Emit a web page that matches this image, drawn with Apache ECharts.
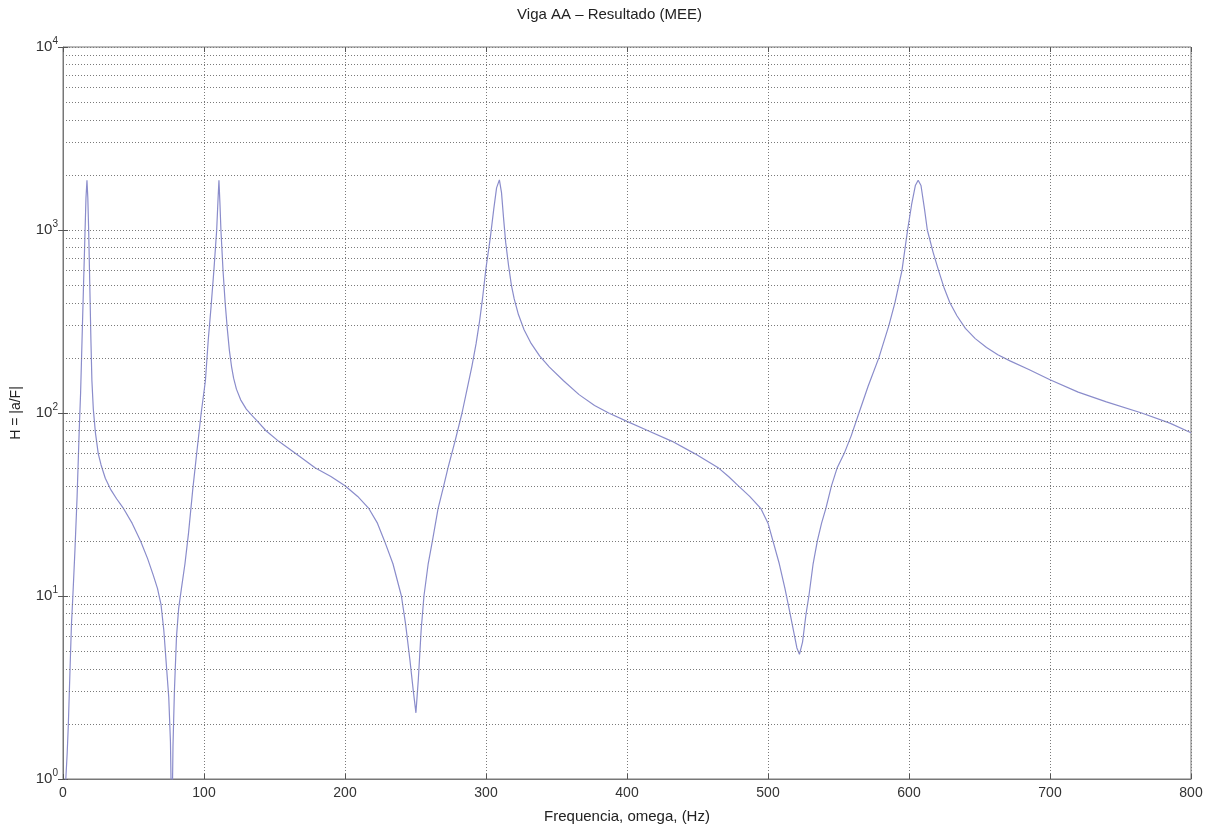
<!DOCTYPE html>
<html>
<head>
<meta charset="utf-8">
<title>Viga AA – Resultado (MEE)</title>
<script src="https://cdn.jsdelivr.net/npm/echarts@6/dist/echarts.min.js"></script>
<style>
    html, body { margin: 0; padding: 0; background: #fff; }
    #chart { width: 1219px; height: 829px; }
</style>
</head>
<body>
<div id="chart"></div>
<script>
// frequency (Hz) and |a/F|
const freqHz = [
    1.5, 2, 3, 3.8, 5, 6, 7, 8.5, 10, 11.5, 12.5, 13.5, 14.5, 15.5, 16.3, 17,
    17.6, 18.2, 19, 19.8, 20.5, 21.5, 23, 25, 27, 30, 34, 38, 43, 49, 55, 60,
    64, 67, 69.5, 71.5, 73.5, 75, 76.2, 77.2, 78, 79, 80.5, 82, 84, 86.5, 89,
    92, 95, 98, 101, 103, 105, 107, 109, 110, 110.6, 111.3, 112, 113.5, 115,
    116.5, 118, 119.5, 121, 123, 126, 130, 134, 138, 144, 153, 165, 179, 190,
    200, 209, 217, 223, 228, 234, 240, 243, 246, 248.5, 250.3, 252, 254, 256,
    259, 262, 266, 270, 273, 278, 283, 287, 290, 293, 295.5, 297.5, 300, 303,
    305.5, 307.5, 309.5, 311, 312.5, 314, 316, 318, 320, 323, 327, 332, 338,
    345, 355, 366, 377, 387, 400, 415, 432, 448, 465, 472, 479, 487, 495, 500,
    503.5, 508, 512, 515, 518, 520.5, 522.3, 524.5, 527, 529, 532, 535, 538,
    541, 545, 549, 554, 559, 564.5, 571, 578.6, 585.7, 590, 595, 599, 602,
    604.5, 606.5, 608.5, 611, 613, 617, 621, 625, 629, 634, 640, 647, 655,
    663, 672, 685, 700, 720, 740, 765, 785, 800
];
const accel = [
    0.8, 1.0, 1.4, 2, 4, 7, 10, 18, 35, 80, 130, 250, 480, 900, 1500, 1870,
    1500, 1000, 500, 250, 150, 105, 78, 60, 52, 44, 38, 34, 30, 25, 20, 16,
    13, 11, 9, 6.5, 4, 2.8, 1.6, 0.5, 1.5, 3, 6, 8.5, 11, 15, 22,
    38, 62, 100, 150, 250, 380, 600, 1000, 1500, 1870, 1400, 1000, 600, 400,
    290, 220, 180, 155, 135, 118, 105, 97, 90, 80, 70, 60, 50, 45,
    40, 35, 30, 25, 20, 15, 10, 7, 4.5, 3, 2.3, 3.5, 6.5, 10,
    15, 20, 30, 40, 50, 70, 100, 140, 180, 240, 320, 420, 620, 900,
    1300, 1700, 1880, 1600, 1150, 850, 640, 500, 420, 345, 285, 240, 205,
    178, 150, 126, 110, 100, 90, 80, 70, 60, 50, 45, 40, 35, 30, 25,
    20, 15, 11, 8.5, 6.5, 5.2, 4.8, 5.6, 8, 10, 15, 20, 25,
    30, 40, 50, 60, 75, 100, 140, 200, 300, 400, 600, 1000, 1400,
    1750, 1870, 1750, 1300, 1000, 760, 600, 480, 400, 340, 290, 255, 228,
    208, 192, 173, 152, 130, 115, 100, 88, 78
];

const xTicks = [0, 100, 200, 300, 400, 500, 600, 700, 800];
const decades = [1, 10, 100, 1000];
const minorSteps = [2, 3, 4, 5, 6, 7, 8, 9];

const FONT = "'Liberation Sans', Arial, sans-serif";
const gridDots = { color: "#7a7a7a", width: 1, type: [1, 2] };

// minor log gridlines (2..9 of each decade)
const minorLines = [];
decades.forEach((d) => {
    minorSteps.forEach((m) => minorLines.push({ yAxis: d * m }));
});

const chart = echarts.init(document.getElementById("chart"));

const supLabel = (value) => {
    const p = Math.round(Math.log10(value));
    return "{base|10}{sup|" + p + "}";
};

const options = {
    animation: false,
    backgroundColor: "#fff",
    title: {
        text: "Viga AA – Resultado (MEE)",
        left: "center",
        top: 2,
        textStyle: {
            fontFamily: FONT,
            fontSize: 15,
            fontWeight: "normal",
            color: "#222",
        },
    },
    grid: {
        left: 63,
        right: 28,
        top: 47,
        bottom: 50,
        show: true,
        borderColor: "#777",
        borderWidth: 1,
    },
    xAxis: [
        {
            type: "value",
            min: 0,
            max: 800,
            interval: 100,
            name: "Frequencia, omega, (Hz)",
            nameLocation: "middle",
            nameGap: 30,
            nameTextStyle: { fontFamily: FONT, fontSize: 15, color: "#222" },
            axisLine: { lineStyle: { color: "#777" } },
            axisTick: { inside: true, length: 5, lineStyle: { color: "#555" } },
            axisLabel: {
                fontFamily: FONT,
                fontSize: 14,
                color: "#333",
                margin: 7,
                customValues: xTicks,
            },
            splitLine: { show: true, lineStyle: gridDots },
        },
        {
            type: "value",
            position: "top",
            min: 0,
            max: 800,
            interval: 100,
            axisLine: { show: false },
            axisTick: { inside: true, length: 5, lineStyle: { color: "#555" } },
            axisLabel: { show: false },
            splitLine: { show: false },
        },
    ],
    yAxis: [
        {
            type: "log",
            logBase: 10,
            min: 1,
            max: 10000,
            name: "H = |a/F|",
            nameLocation: "middle",
            nameGap: 40,
            nameTextStyle: { fontFamily: FONT, fontSize: 14, color: "#222" },
            axisLine: { show: true, lineStyle: { color: "#777" } },
            axisTick: { inside: true, length: 5, lineStyle: { color: "#555" } },
            axisLabel: {
                margin: 5,
                formatter: supLabel,
                rich: {
                    base: { fontFamily: FONT, fontSize: 15, color: "#333" },
                    sup: {
                        fontFamily: FONT,
                        fontSize: 10,
                        color: "#333",
                        verticalAlign: "bottom",
                        padding: [0, 0, 12, 0],
                    },
                },
            },
            splitLine: { show: true, lineStyle: gridDots },
        },
        {
            type: "log",
            logBase: 10,
            min: 1,
            max: 10000,
            position: "right",
            axisLine: { show: false },
            axisTick: { inside: true, length: 5, lineStyle: { color: "#555" } },
            axisLabel: { show: false },
            splitLine: { show: false },
        },
    ],
    series: [
        {
            name: "H",
            type: "line",
            data: freqHz.map((f, i) => [f, accel[i]]),
            showSymbol: false,
            clip: true,
            lineStyle: { color: "#8a8ccb", width: 1.2 },
            markLine: {
                silent: true,
                symbol: "none",
                label: { show: false },
                lineStyle: gridDots,
                data: minorLines,
            },
            z: 3,
        },
    ],
};

chart.setOption(options);
</script>
</body>
</html>
